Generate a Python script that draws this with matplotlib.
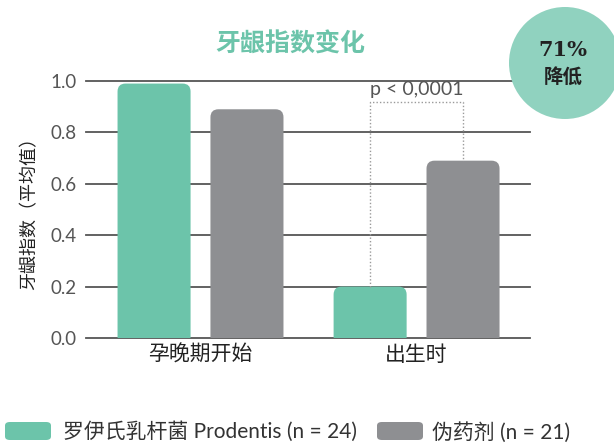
import matplotlib.pyplot as plt
from matplotlib.patches import FancyBboxPatch, Ellipse

plt.rcParams['font.family'] = ['Noto Sans CJK SC', 'DejaVu Sans']

# data
groups = ['孕晚期开始', '出生时']
prodentis = [0.99, 0.20]
placebo = [0.89, 0.69]
yticks = [0.0, 0.2, 0.4, 0.6, 0.8, 1.0]

green = '#6cc4aa'
gray = '#8e8f92'
latin = ['Lato', 'Noto Sans CJK SC', 'DejaVu Sans']

fig = plt.figure(figsize=(6.14, 4.44), dpi=100)
ax = fig.add_axes([86 / 614, 1 - 338 / 444, 444 / 614, 257 / 444])
ax.set_xlim(-0.53, 1.525)
ax.set_ylim(0, 1.0)

# gridlines
for y in yticks:
    ax.axhline(y, color='#555555', lw=1.3, zorder=1, clip_on=False)

width = 0.338
offset = 0.215
aspect = 216 / 257
for i, (g, p) in enumerate(zip(prodentis, placebo)):
    for x0, h, c in [(i - offset, g, green), (i + offset, p, gray)]:
        patch = FancyBboxPatch((x0 - width / 2, -0.1), width, h + 0.1,
                               boxstyle='round,pad=0,rounding_size=0.037',
                               mutation_aspect=aspect, fc=c, ec='none', zorder=2)
        ax.add_patch(patch)

ax.set_xticks(range(len(groups)))
ax.set_xticklabels(groups, fontsize=15, color='#222222')
ax.set_yticks(yticks)
ax.set_yticklabels([f'{v:.1f}' for v in yticks], fontsize=13.5, color='#555555',
                   family=latin)
ax.tick_params(length=0, pad=7)
ax.tick_params(axis='x', pad=4)
for s in ax.spines.values():
    s.set_visible(False)
ax.set_ylabel('牙龈指数（平均值）', fontsize=13, color='#222222', labelpad=8)

# significance bracket
x1 = 1 - offset
x2 = 1 + offset
ybr = 0.92
ax.plot([x1, x1, x2, x2], [prodentis[1], ybr, ybr, placebo[1]], color='#9a9a9a',
        lw=1, ls=(0, (1, 1.5)), zorder=3, clip_on=False)
ax.text(1, ybr + 0.012, 'p < 0,0001', ha='center', va='bottom', fontsize=14,
        color='#555555', family=latin)

# title
fig.text(290 / 614, 1 - 45 / 444, '牙龈指数变化', ha='center', va='center',
         fontsize=18, fontweight='bold', color=green)

# badge
fig.patches.append(Ellipse((565 / 614, 1 - 63 / 444), 112 / 614, 112 / 444,
                           transform=fig.transFigure, fc='#90d2bf', ec='none'))
fig.text(563 / 614, 1 - 50 / 444, '71%', ha='center', va='center', fontsize=15,
         fontweight='bold', color='#222222', family=['DejaVu Serif'])
fig.text(563 / 614, 1 - 77 / 444, '降低', ha='center', va='center', fontsize=14,
         fontweight='bold', color='#222222')

# legend
leg = [(5, 63, green, '罗伊氏乳杆菌 Prodentis (n = 24)'),
       (377, 432, gray, '伪药剂 (n = 21)')]
for px, tx, c, label in leg:
    fig.patches.append(FancyBboxPatch((px / 614, 1 - 440 / 444), 46 / 614, 18 / 444,
                                      boxstyle='round,pad=0,rounding_size=0.008',
                                      transform=fig.transFigure, fc=c, ec='none'))
    fig.text(tx / 614, 1 - 432 / 444, label, ha='left', va='center', fontsize=15,
             color='#333333', family=latin)

fig.savefig('out.png', dpi=100)
